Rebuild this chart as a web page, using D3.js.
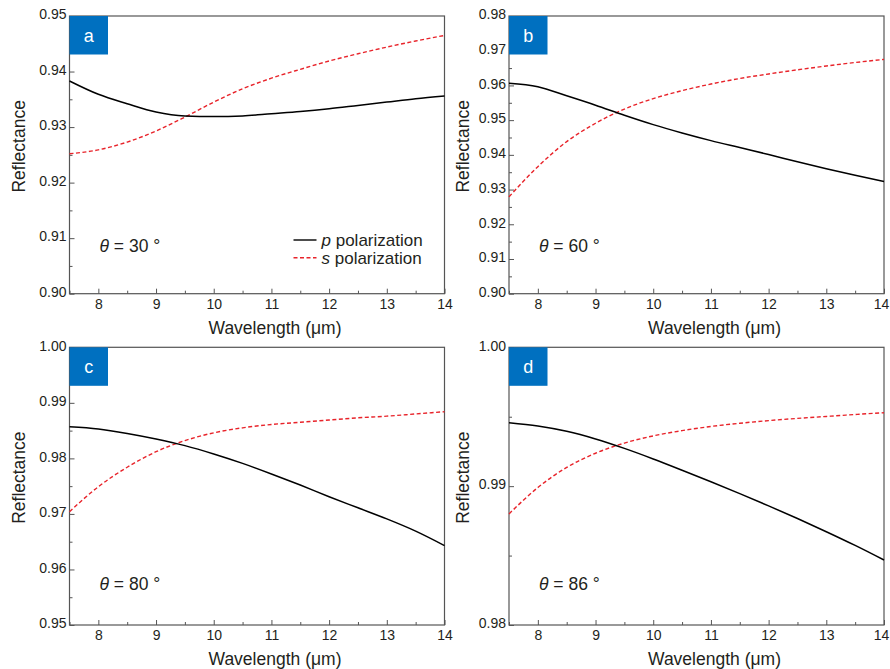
<!DOCTYPE html>
<html>
<head>
<meta charset="utf-8">
<script src="https://cdn.jsdelivr.net/npm/d3@7"></script>
<style>
  body { margin: 0; background: #fff; }
  svg { display: block; font-family: "Liberation Sans", Arial, sans-serif; }
  .tick text { fill: #231f20; font-size: 14px; }
  .tick line { stroke: #555; }
</style>
</head>
<body>
<svg id="chart" width="890" height="669"></svg>
<script>
// wavelength samples (µm)
var wavelength = [7.5, 8, 8.5, 9, 9.5, 10, 10.5, 11, 11.5, 12, 12.5, 13, 13.5, 14];

// reflectance, theta = 30, 60, 80, 86 deg
var pA = [.9383, .9359, .9342, .9327, .9320, .9319, .9320, .9324, .9328, .9333, .9339, .9345, .9351, .9356];
var sA = [.9252, .9259, .9273, .9293, .9318, .9345, .9369, .9388, .9404, .9419, .9432, .9444, .9455, .9465];
var pB = [.9606, .9596, .9570, .9543, .9514, .9487, .9463, .9441, .9421, .9401, .9380, .9360, .9341, .9323];
var sB = [.9279, .9366, .9438, .9491, .9532, .9562, .9585, .9604, .9620, .9633, .9645, .9656, .9666, .9675];
var pC = [.9857, .9853, .9845, .9835, .9823, .9808, .9791, .9772, .9752, .9731, .9711, .9691, .9669, .9643];
var sC = [.9704, .9749, .9784, .9812, .9832, .9846, .9855, .9861, .9865, .9869, .9873, .9876, .9880, .9884];
var pD = [.99457, .99433, .99395, .99340, .99272, .99196, .99115, .99032, .98946, .98858, .98767, .98672, .98573, .98468];
var sD = [.98800, .98990, .99135, .99237, .99310, .99362, .99400, .99430, .99453, .99472, .99488, .99502, .99516, .99529];

var panelNames = ['a', 'b', 'c', 'd'];
var angles = [30, 60, 80, 86];
var yDomains = [[0.90, 0.95], [0.90, 0.98], [0.95, 1.00], [0.98, 1.00]];
var yMajor = [
  [0.90, 0.91, 0.92, 0.93, 0.94, 0.95],
  [0.90, 0.91, 0.92, 0.93, 0.94, 0.95, 0.96, 0.97, 0.98],
  [0.95, 0.96, 0.97, 0.98, 0.99, 1.00],
  [0.98, 0.99, 1.00]
];
var xMajor = [8, 9, 10, 11, 12, 13, 14];
var legendLabels = ['p', 's'];

var svg = d3.select('#chart');
var colLeft = [69.5, 509], rowTop = [16, 347.3];
var W = 375, H = 277.7;
var textCol = '#231f20';

var series = [[pA, sA], [pB, sB], [pC, sC], [pD, sD]];

panelNames.forEach(function(name, i){
  var left = colLeft[i % 2], top = rowTop[Math.floor(i / 2)];
  var g = svg.append('g').attr('transform', 'translate(' + left + ',' + top + ')');
  var x = d3.scaleLinear().domain([7.5, 14]).range([0, W]);
  var y = d3.scaleLinear().domain(yDomains[i]).range([H, 0]);

  // minor ticks
  var xMinor = d3.range(7.5, 14.01, 0.5).filter(function(v){ return xMajor.indexOf(v) < 0; });
  var yMinor = yMajor[i].slice(0, -1).map(function(v){ return v + 0.005; });
  g.append('g').attr('transform', 'translate(0,' + H + ')')
    .call(d3.axisBottom(x).tickValues(xMinor).tickSize(-3).tickFormat(''))
    .call(function(a){ a.select('.domain').remove(); });
  g.append('g')
    .call(d3.axisLeft(y).tickValues(yMinor).tickSize(-3).tickFormat(''))
    .call(function(a){ a.select('.domain').remove(); });

  // major ticks
  g.append('g').attr('transform', 'translate(0,' + H + ')')
    .call(d3.axisBottom(x).tickValues(xMajor).tickSize(-5).tickPadding(5).tickFormat(d3.format('d')))
    .call(function(a){
      a.select('.domain').remove();
      // keep the last label inside the page
      a.selectAll('text').filter(function(d){ return d === 14; }).attr('dx', i % 2 ? -3 : 0);
    });
  g.append('g')
    .call(d3.axisLeft(y).tickValues(yMajor[i]).tickSize(-5).tickPadding(3).tickFormat(d3.format('.2f')))
    .call(function(a){
      a.select('.domain').remove();
      a.selectAll('text').attr('dy', '0.2em');
    });

  g.selectAll('.tick line').attr('stroke', '#555').attr('stroke-width', 1);

  // frame
  g.append('rect').attr('width', W).attr('height', H)
    .attr('fill', 'none').attr('stroke', '#555').attr('stroke-width', 1.2);

  // curves
  var line = d3.line()
    .x(function(d, j){ return x(wavelength[j]); })
    .y(function(d){ return y(d); })
    .curve(d3.curveMonotoneX);
  g.append('path').datum(series[i][1]).attr('d', line)
    .attr('fill', 'none').attr('stroke', '#e8232a').attr('stroke-width', 1.4)
    .attr('stroke-dasharray', '4,2.5');
  g.append('path').datum(series[i][0]).attr('d', line)
    .attr('fill', 'none').attr('stroke', '#000').attr('stroke-width', 1.5);

  // panel label
  g.append('rect').attr('x', 0).attr('y', 0).attr('width', 38.5).attr('height', 38.5)
    .attr('fill', '#0070c0');
  g.append('text').attr('x', 19.2).attr('y', 19.2).attr('dy', '0.35em')
    .attr('text-anchor', 'middle').attr('fill', '#fff').style('font-size', '18px')
    .text(name);

  // angle label
  g.append('text').attr('x', 30).attr('y', i < 2 ? 235.5 : 243)
    .attr('fill', textCol).style('font-size', '17.5px')
    .html('<tspan font-style="italic">θ</tspan> = ' + angles[i] + ' °');

  // axis titles
  g.append('text').attr('x', W / 2 + 18).attr('y', H + 40)
    .attr('text-anchor', 'middle').attr('fill', textCol).style('font-size', '17.5px')
    .text('Wavelength (μm)');
  g.append('text')
    .attr('transform', 'translate(' + (i % 2 ? -40 : -45) + ',' + (H / 2 - 8.5) + ') rotate(-90)')
    .attr('text-anchor', 'middle').attr('fill', textCol).style('font-size', '17.5px')
    .text('Reflectance');

  // legend only in panel a
  if (i === 0) {
    legendLabels.forEach(function(lab, k){
      var ly = 224 + k * 17.7;
      g.append('line').attr('x1', 224).attr('x2', 247).attr('y1', ly).attr('y2', ly)
        .attr('stroke', k ? '#e8232a' : '#000').attr('stroke-width', 1.4)
        .attr('stroke-dasharray', k ? '4,2.5' : null);
      g.append('text').attr('x', 252).attr('y', ly + 6)
        .attr('fill', textCol).style('font-size', '17px')
        .html('<tspan font-style="italic">' + lab + '</tspan> polarization');
    });
  }
});
</script>
</body>
</html>
